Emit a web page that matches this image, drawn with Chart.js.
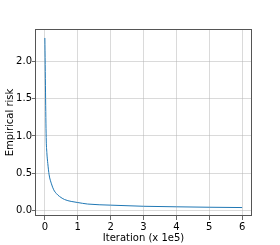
<!DOCTYPE html>
<html>
<head>
<meta charset="utf-8">
<script src="https://cdn.jsdelivr.net/npm/chart.js@4"></script>
<style>
  html, body { margin: 0; padding: 0; background: #fff; }
  #wrap { width: 280px; height: 245px; }
</style>
</head>
<body>
<div id="wrap"><canvas id="risk-chart" width="280" height="245"></canvas></div>
<script>
// iteration in units of 1e5
const iterations = [0, 0.04, 0.06, 0.09, 0.13, 0.2, 0.27, 0.35, 0.45, 0.6, 0.8, 1.0, 1.3, 2, 3, 4, 5, 6];
const empiricalRisk = [2.31, 0.98, 0.78, 0.63, 0.48, 0.36, 0.28, 0.23, 0.19, 0.15, 0.125, 0.11, 0.09, 0.075, 0.06, 0.053, 0.047, 0.043];
const xTicks = [0, 1, 2, 3, 4, 5, 6];
const yTicks = [0, 0.5, 1.0, 1.5, 2.0];

const FONT = { family: 'DejaVu Sans', size: 10 };

// matplotlib-style box round the plot area
const frame = {
  id: 'frame',
  afterDraw(chart) {
    const { ctx, chartArea: a } = chart;
    ctx.save();
    ctx.strokeStyle = '#555';
    ctx.lineWidth = 1;
    ctx.strokeRect(a.left + 0.5, a.top + 0.5, a.right - a.left - 1, a.bottom - a.top - 1);
    ctx.restore();
  },
};

function renderChart() {
  const ctx = document.getElementById('risk-chart');
  new Chart(ctx, {
    type: 'line',
    data: {
      datasets: [
        {
          data: iterations.map((x, i) => ({ x, y: empiricalRisk[i] })),
          borderColor: '#1f77b4',
          borderWidth: 1,
          pointRadius: 0,
          cubicInterpolationMode: 'monotone',
          fill: false,
        },
      ],
    },
    options: {
      responsive: false,
      animation: false,
      plugins: { legend: { display: false }, tooltip: { enabled: false } },
      layout: { padding: { top: 29, right: 28, left: 0, bottom: 0 } },
      scales: {
        x: {
          type: 'linear',
          min: -0.3,
          max: 6.3,
          afterBuildTicks: (s) => { s.ticks = xTicks.map((v) => ({ value: v })); },
          afterFit: (s) => { s.height = 29; },
          ticks: { color: '#000', font: FONT, padding: 1, maxRotation: 0, callback: (v) => String(v) },
          grid: { color: 'rgba(176,176,176,0.6)', tickColor: '#444', tickLength: 4, lineWidth: 0.8 },
          border: { display: false },
          title: { display: true, text: 'Iteration (x 1e5)', color: '#000', font: FONT, padding: { top: 0, bottom: 1 } },
        },
        y: {
          type: 'linear',
          min: -0.07,
          max: 2.43,
          afterBuildTicks: (s) => { s.ticks = yTicks.map((v) => ({ value: v })); },
          afterFit: (s) => { s.width = 35; },
          ticks: { color: '#000', font: FONT, padding: 0, callback: (v) => v.toFixed(1) },
          grid: { color: 'rgba(176,176,176,0.6)', tickColor: '#444', tickLength: 3, lineWidth: 0.8 },
          border: { display: false },
          title: { display: true, text: 'Empirical risk', color: '#000', font: FONT, padding: { top: 4, bottom: 0 } },
        },
      },
    },
    plugins: [frame],
  });
}

renderChart();
</script>
</body>
</html>
